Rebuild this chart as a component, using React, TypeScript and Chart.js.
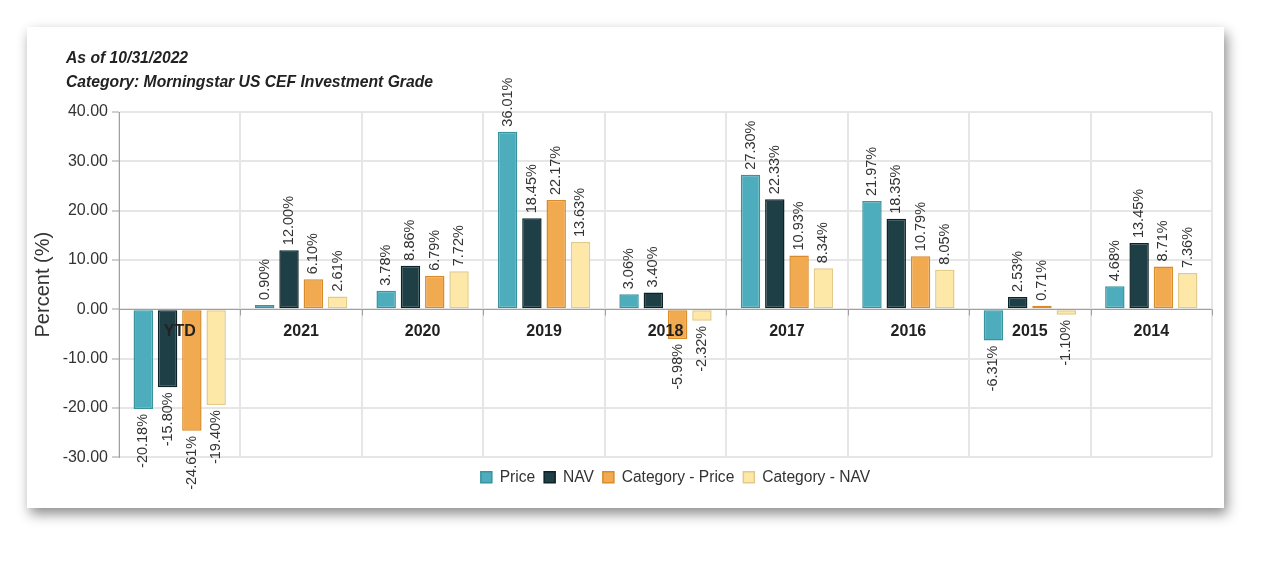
import { useEffect, useRef } from "react";
import { Chart, registerables } from "chart.js";

Chart.register(...registerables);

const categories = ["YTD", "2021", "2020", "2019", "2018", "2017", "2016", "2015", "2014"];
const priceValues = [-20.18, 0.9, 3.78, 36.01, 3.06, 27.3, 21.97, -6.31, 4.68];
const navValues = [-15.8, 12.0, 8.86, 18.45, 3.4, 22.33, 18.35, 2.53, 13.45];
const categoryPriceValues = [-24.61, 6.1, 6.79, 22.17, -5.98, 10.93, 10.79, 0.71, 8.71];
const categoryNavValues = [-19.4, 2.61, 7.72, 13.63, -2.32, 8.34, 8.05, -1.1, 7.36];
const seriesNames = ["Price", "NAV", "Category - Price", "Category - NAV"];
const titleLines = ["As of 10/31/2022", "Category: Morningstar US CEF Investment Grade"];

const FONT = 'Arial, "Liberation Sans", sans-serif';

const overlayPlugin = {
  id: "overlay",
  afterLayout(chart: any) {
    const lg = chart.legend;
    if (lg) {
      lg.left += 56;
      lg.right += 56;
    }
  },
  beforeDatasetsDraw(chart: any) {
    const ctx = chart.ctx;
    const y = chart.scales.y;
    const area = chart.chartArea;
    const y0 = Math.round(y.getPixelForValue(0)) + 0.5;
    ctx.save();
    ctx.strokeStyle = "#a0a0a0";
    ctx.lineWidth = 1;
    ctx.beginPath();
    ctx.moveTo(area.left, y0);
    ctx.lineTo(area.right, y0);
    const n = categories.length;
    const w = (area.right - area.left) / n;
    for (let i = 0; i <= n; i++) {
      const bx = Math.round(area.left + i * w) + 0.5;
      ctx.moveTo(bx, y0);
      ctx.lineTo(bx, y0 + 6);
    }
    ctx.stroke();
    ctx.restore();
  },
  afterDatasetsDraw(chart: any) {
    const ctx = chart.ctx;
    const x = chart.scales.x;
    const y = chart.scales.y;
    const y0 = y.getPixelForValue(0);
    ctx.save();
    ctx.font = `bold 16px ${FONT}`;
    ctx.fillStyle = "#222";
    ctx.textAlign = "center";
    ctx.textBaseline = "middle";
    categories.forEach((c, i) => {
      ctx.fillText(c, x.getPixelForValue(i), y0 + 22);
    });
    ctx.font = `14.5px ${FONT}`;
    ctx.fillStyle = "#333";
    chart.data.datasets.forEach((ds: any, di: number) => {
      const meta = chart.getDatasetMeta(di);
      meta.data.forEach((bar: any, i: number) => {
        const v = ds.data[i];
        ctx.save();
        ctx.translate(bar.x, bar.y + (v >= 0 ? -5 : 5));
        ctx.rotate(-Math.PI / 2);
        ctx.textAlign = v >= 0 ? "left" : "right";
        ctx.textBaseline = "middle";
        ctx.fillText(v.toFixed(2) + "%", 0, 0);
        ctx.restore();
      });
    });
    ctx.restore();
  },
};

export default function App() {
  const canvasRef = useRef<HTMLCanvasElement | null>(null);

  useEffect(() => {
    if (!canvasRef.current) return;
    Chart.defaults.font.family = FONT;
    const fills = ["#4eadbd", "#1d3f45", "#f2aa50", "#fde8a8"];
    const borders = ["#38939f", "#0b2328", "#d98b2b", "#e3c98a"];
    const values = [priceValues, navValues, categoryPriceValues, categoryNavValues];
    const chart = new Chart(canvasRef.current, {
      type: "bar",
      data: {
        labels: categories,
        datasets: seriesNames.map((name, i) => ({
          label: name,
          data: values[i],
          backgroundColor: fills[i],
          borderColor: borders[i],
          borderWidth: 1.5,
          borderSkipped: false,
          categoryPercentage: 0.8,
          barPercentage: 0.8,
        })),
      },
      options: {
        animation: false,
        responsive: false,
        maintainAspectRatio: false,
        layout: { padding: { top: 85, left: 0, right: 12, bottom: 13 } },
        plugins: {
          legend: {
            position: "bottom",
            labels: {
              boxWidth: 11,
              boxHeight: 11,
              padding: 9,
              color: "#333",
              font: { size: 15.6, family: FONT },
            },
          },
          tooltip: { enabled: false },
          title: { display: false },
        },
        scales: {
          x: {
            grid: { color: "#e6e6e6", lineWidth: 2, drawTicks: false, offset: true },
            border: { display: false },
            ticks: { display: false },
            afterFit: (scale: any) => {
              scale.height = 3;
            },
          },
          y: {
            min: -30,
            max: 40,
            ticks: {
              stepSize: 10,
              padding: 4,
              color: "#333",
              font: { size: 16, family: FONT },
              callback: (v: any) => Number(v).toFixed(2),
            },
            grid: { color: "#e6e6e6", lineWidth: 2, tickLength: 7, tickColor: "#a0a0a0", tickWidth: 1 },
            border: { display: true, color: "#a0a0a0", width: 1 },
            title: {
              display: true,
              text: "Percent (%)",
              color: "#333",
              padding: { top: 4, bottom: 4 },
              font: { size: 20, family: FONT },
            },
            afterFit: (scale: any) => {
              scale.width = 92;
            },
          },
        },
      },
      plugins: [overlayPlugin],
    });
    return () => chart.destroy();
  }, []);

  return (
    <div style={{ position: "fixed", left: 0, top: 0, width: 1280, height: 564, background: "#fff" }}>
      <div
        style={{
          position: "absolute",
          left: 27,
          top: 27,
          width: 1197,
          height: 481,
          background: "#fff",
          boxShadow: "3px 6px 12px rgba(0,0,0,0.45)",
        }}
      >
        <canvas ref={canvasRef} width={1197} height={481} style={{ position: "absolute", left: 0, top: 0 }} />
        {titleLines.map((t, i) => (
          <div
            key={i}
            style={{
              position: "absolute",
              left: 39,
              top: 22 + i * 24,
              lineHeight: "18px",
              font: `italic bold 15.7px ${FONT}`,
              color: "#222",
              whiteSpace: "nowrap",
            }}
          >
            {t}
          </div>
        ))}
      </div>
    </div>
  );
}
